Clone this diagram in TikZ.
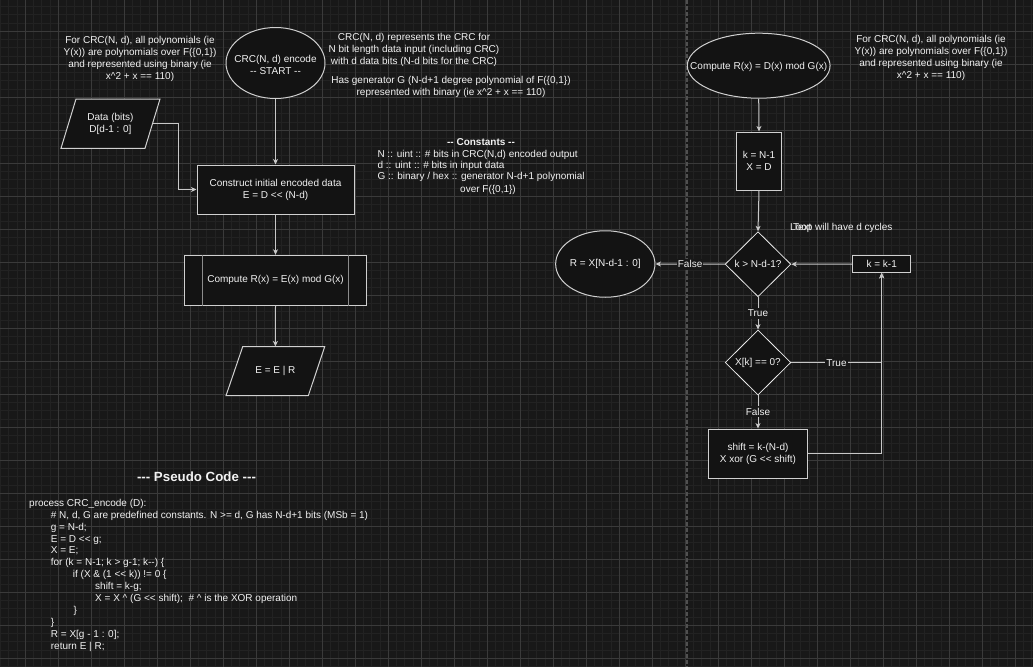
\documentclass[tikz,border=0pt]{standalone}
\usepackage{fontspec}
\setmainfont{Liberation Sans}[Ligatures=TeXOff]
\usetikzlibrary{shapes.geometric,arrows.meta}

\definecolor{canvas}{HTML}{181818}
\definecolor{gridminor}{HTML}{222222}
\definecolor{gridmajor}{HTML}{3A3A3A}
\definecolor{divider}{HTML}{505050}
\definecolor{nodefill}{HTML}{131313}
\definecolor{edgecol}{HTML}{D0D0D0}
\definecolor{wirecol}{HTML}{C8C8C8}
\definecolor{barcol}{HTML}{8C8C8C}
\definecolor{ink}{HTML}{F2F2F2}

\begin{document}
\begin{tikzpicture}[x=1pt,y=-1pt,
  every node/.style={text=ink, font=\fontsize{10}{12}\selectfont, inner sep=0pt},
  shapebox/.style={draw=edgecol, fill=nodefill, line width=1pt, align=center},
  proc/.style={shapebox, rectangle},
  term/.style={shapebox, ellipse},
  decision/.style={shapebox, diamond, line width=0.8pt, draw=white!92!black},
  iobody/.style={draw=edgecol, fill=nodefill, line width=1pt},
  note/.style={align=center},
  oneline/.style={text height=8pt, text depth=1pt},
  codeline/.style={oneline, anchor=west},
  wire/.style={draw=wirecol, line width=1pt, -{Stealth[length=5.5pt,width=5pt,inset=1.5pt]}},
  lbl/.style={fill=canvas, inner sep=1pt, oneline},
]

% canvas and grid
\fill[canvas] (0,0) rectangle (1033,667);
\useasboundingbox (0,0) rectangle (1033,667);
\foreach \k in {0,...,125} \draw[gridminor, line width=0.9pt] ({0.58+8.25*\k},0) -- ({0.58+8.25*\k},667);
\foreach \k in {0,...,80} \draw[gridminor, line width=0.9pt] (0,{6.58+8.25*\k}) -- (1033,{6.58+8.25*\k});
\foreach \k in {0,...,30} \draw[gridmajor, line width=0.9pt] ({25.33+33*\k},0) -- ({25.33+33*\k},667);
\foreach \k in {0,...,19} \draw[gridmajor, line width=0.9pt] (0,{31.33+33*\k}) -- (1033,{31.33+33*\k});

% divider between the two flows
\draw[divider, line width=1.2pt, dash pattern=on 4pt off 2pt] (687,0) -- (687,667);

% ---------------- encoder flow ----------------
\node[note] (noteL) at (140,58.5) {For CRC(N, d), all polynomials (ie\\Y(x)) are polynomials over F(\{0,1\})\\and represented using binary (ie\\x\textasciicircum 2 + x == 110)};

\node[term, minimum width=99pt, minimum height=71pt] (start) at (275.5,63) {};
\node[align=center] (starttext) at (275.5,65) {CRC(N, d) encode\\-{}- START -{}-};

\node[note] (about) at (414,49.5) {CRC(N, d) represents the CRC for\\N bit length data input (including CRC)\\with d data bits (N-d bits for the CRC)};
\node[note] (gen) at (451,86.7) {Has generator G (N-d+1 degree polynomial of F(\{0,1\})\\represented with binary (ie x\textasciicircum 2 + x == 110)};

\node[oneline, font=\bfseries\fontsize{10}{12}\selectfont] (consthead) at (481,142.3) {-{}- Constants -{}-};
\node[codeline] (constN) at (377.3,153.5) {N :: uint :: \# bits in CRC(N,d) encoded output};
\node[codeline] (constd) at (377.3,164.8) {d :: uint :: \# bits in input data};
\node[codeline] (constG) at (377.3,176.2) {G :: binary / hex :: generator N-d+1 polynomial};
\node[oneline] (constG2) at (488,188.5) {over F(\{0,1\})};

\path[iobody] (76,99) -- (160,99) -- (145,148.3) -- (61,148.3) -- cycle;
\node[minimum width=84pt, minimum height=49.3pt, align=center] (data) at (110.5,123.6) {Data (bits)\\D[d-1 : 0]};

\node[proc, minimum width=157pt, minimum height=49pt] (build) at (275.5,189.5) {Construct initial encoded data\\E = D <{}< (N-d)};

\node[proc, minimum width=182.4pt, minimum height=50pt] (mod) at (275.5,280.3) {Compute R(x) = E(x) mod G(x)};
\draw[barcol, line width=1pt] ([xshift=18.4pt]mod.north west) -- ([xshift=18.4pt]mod.south west);
\draw[barcol, line width=1pt] ([xshift=-18.4pt]mod.north east) -- ([xshift=-18.4pt]mod.south east);

\path[iobody] (242.7,346.7) -- (324.7,346.7) -- (308.3,395.7) -- (226,395.7) -- cycle;
\node[minimum width=82pt, minimum height=49pt] (merge) at (275.4,371.2) {E = E | R};

\draw[wire] (start.south) -- (build.north);
\draw[wire] (build.south) -- (mod.north);
\draw[wire] (mod.south) -- (merge.north);
\coordinate (dbend) at (178.3,189.5);
\draw[wire] (data.east) -- (data.east -| dbend) -- (dbend) -- (build.west);

% ---------------- pseudo code ----------------
\node[oneline, font=\bfseries\fontsize{13.3}{16}\selectfont] (codetitle) at (196.5,477.7) {-{}-{}- Pseudo Code -{}-{}-};
\node[codeline] (code0) at (29,502.7) {process CRC\_encode (D):};
\node[codeline] (code1) at (50.7,514.6) {\# N, d, G are predefined constants. N >= d, G has N-d+1 bits (MSb = 1)};
\node[codeline] (code2) at (50.7,526.5) {g = N-d;};
\node[codeline] (code3) at (50.7,538.5) {E = D <{}< g;};
\node[codeline] (code4) at (50.7,550.4) {X = E;};
\node[codeline] (code5) at (50.7,562.3) {for (k = N-1; k > g-1; k-{}-) \{};
\node[codeline] (code6) at (72.7,574.2) {if (X \& (1 <{}< k)) != 0 \{};
\node[codeline] (code7) at (95,586.1) {shift = k-g;};
\node[codeline] (code8) at (95,598.1) {X = X \textasciicircum{} (G <{}< shift);\ \ \# \textasciicircum{} is the XOR operation};
\node[codeline] (code9) at (73.3,610) {\}};
\node[codeline] (code10) at (50.7,621.9) {\}};
\node[codeline] (code11) at (50.7,633.8) {R = X[g - 1 : 0];};
\node[codeline] (code12) at (50.7,645.7) {return E | R;};

% ---------------- remainder flow ----------------
\node[term, minimum width=142.7pt, minimum height=65pt] (rstart) at (758.7,65.7) {};
\node (rstarttext) at (758.7,66.5) {Compute R(x) = D(x) mod G(x)};

\node[note] (noteR) at (931,58) {For CRC(N, d), all polynomials (ie\\Y(x)) are polynomials over F(\{0,1\})\\and represented using binary (ie\\x\textasciicircum 2 + x == 110)};

\node[proc, minimum width=45pt, minimum height=58pt] (init) at (759,161) {k = N-1\\X = D};

\node[codeline] (looptext) at (790,226.7) {Loop will have d cycles};
\node[codeline] (deftext) at (792.8,226.7) {Text};

\node[decision, minimum width=65.7pt, minimum height=65pt] (chk) at (758,264.2) {k > N-d-1?};
\node[proc, minimum width=58pt, minimum height=16.6pt] (dec) at (881.7,264) {k = k-1};
\node[term, minimum width=99.3pt, minimum height=66.5pt] (res) at (605.3,264) {};
\node (restext) at (605.3,264) {R = X[N-d-1 : 0]};
\node[decision, minimum width=65.7pt, minimum height=65pt] (bit) at (758,362.5) {X[k] == 0?};
\node[proc, minimum width=99.4pt, minimum height=49.3pt] (xor) at (758,453.7) {shift = k-(N-d)\\X xor (G <{}< shift)};

\draw[wire] (rstart.south) -- (init.north);
\draw[wire] (init.south) -- (chk.north);
\draw[wire] (dec.west) -- (chk.east);
\draw[wire] (chk.west) -- node[lbl]{False} (res.east);
\draw[wire] (chk.south) -- node[lbl]{True} (bit.north);
\draw[wire] (bit.south) -- node[lbl]{False} (xor.north);
\draw[wire] (bit.east) -- node[lbl]{True} (bit.east -| dec.south) -- (dec.south);
\draw[wire] (xor.east) -- (xor.east -| dec.south) -- (dec.south);

\end{tikzpicture}
\end{document}
